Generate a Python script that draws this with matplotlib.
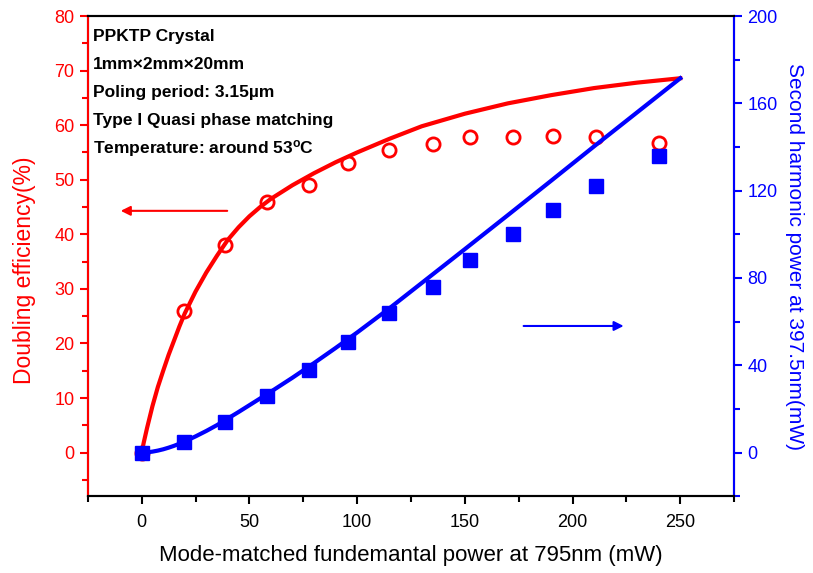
import numpy as np
import matplotlib.pyplot as plt

plt.rcParams['font.family'] = ['Liberation Sans', 'DejaVu Sans']
plt.rcParams['mathtext.default'] = 'regular'

# === Measured data ===
p_fund = [0, 19.5, 38.5, 58, 77.5, 96, 115, 135, 152.5, 172.5, 191, 211, 240]
efficiency = [0, 26, 38, 46, 49, 53, 55.4, 56.6, 57.8, 57.9, 58.1, 57.9, 56.8]
p_sh = [0, 5, 14.2, 25.7, 38, 50.5, 63.8, 76, 88, 100, 111, 122, 136]

# === Fit curves ===
fit_x = [0, 1, 2.5, 5, 7.5, 10, 12.5, 15, 17.5, 20, 25, 30, 35, 40, 45, 50, 55, 60,
         70, 80, 90, 100, 115, 130, 150, 170, 190, 210, 230, 250]
fit_eff = [0, 1.9, 4.5, 8.5, 12, 15, 17.9, 20.5, 23.1, 25.5, 29.5, 33, 36.1, 39, 41.3,
           43.3, 45, 46.5, 49, 51.2, 53.2, 55, 57.5, 59.8, 62.1, 64, 65.5, 66.8, 67.8, 68.6]
fit_sh = [0, 0.02, 0.11, 0.43, 0.9, 1.5, 2.24, 3.08, 4.04, 5.1, 7.4, 9.9, 12.6, 15.6, 18.6,
          21.7, 24.8, 27.9, 34.3, 41.0, 47.9, 55.0, 66.1, 77.7, 93.2, 108.8, 124.5, 140.3,
          155.9, 171.5]

info_lines = ["PPKTP Crystal",
              "1mm\u00d72mm\u00d720mm",
              "Poling period: 3.15\u00b5m",
              "Type I Quasi phase matching",
              r"Temperature: around 53$^{o}$C"]

red = '#ff0000'
blue = '#0000ff'

fig = plt.figure(figsize=(8.13, 5.73), dpi=100)
ax1 = fig.add_axes([0.108, 0.134, 0.795, 0.838])
ax2 = ax1.twinx()

ax1.plot(fit_x, fit_eff, color=red, lw=3, zorder=3)
ax1.plot(p_fund, efficiency, 'o', mfc='none', mec=red, mew=2, ms=9.5, zorder=4)
ax2.plot(fit_x, fit_sh, color=blue, lw=3, zorder=3)
ax2.plot(p_fund, p_sh, 's', color=blue, ms=9.5, zorder=4)

ax1.set_xlim(-25, 275)
ax1.set_ylim(-8, 80)
ax2.set_ylim(-20, 200)

ax1.set_xticks(np.arange(0, 251, 50))
ax1.set_xticks(np.arange(-25, 276, 25), minor=True)
ax1.set_yticks(np.arange(0, 81, 10))
ax1.set_yticks(np.arange(-5, 81, 5), minor=True)
ax2.set_yticks(np.arange(0, 201, 40))
ax2.set_yticks(np.arange(-20, 201, 20), minor=True)

for ax in (ax1, ax2):
    for s in ax.spines.values():
        s.set_linewidth(1.5)
    ax.tick_params(which='major', length=6, width=1.5, labelsize=13, direction='out')
    ax.tick_params(which='minor', length=4, width=1.5, direction='out')
ax1.tick_params(axis='x', pad=7)

ax2.spines['left'].set_color(red)
ax2.spines['right'].set_color(blue)
ax1.tick_params(axis='y', which='both', colors=red)
ax2.tick_params(axis='y', which='both', colors=blue)

ax1.set_xlabel("Mode-matched fundemantal power at 795nm (mW)", fontsize=16, labelpad=10)
ax1.set_ylabel("Doubling efficiency(%)", fontsize=16.5, color=red)
ax1.yaxis.set_label_coords(-0.080, 0.47)
ax2.set_ylabel("Second harmonic power at 397.5nm(mW)", fontsize=15, color=blue,
               rotation=270, labelpad=19)

# arrows pointing to the axes
ax1.annotate('', xy=(-11, 44.3), xytext=(41, 44.3),
             arrowprops=dict(arrowstyle='-|>', color=red, lw=1.5, mutation_scale=14))
ax2.annotate('', xy=(225, 58), xytext=(176, 58),
             arrowprops=dict(arrowstyle='-|>', color=blue, lw=1.5, mutation_scale=14))

for i, line in enumerate(info_lines):
    ax1.text(0.008, 0.957 - i * 0.058, line, transform=ax1.transAxes,
             fontsize=12.5, fontweight='bold', va='center', ha='left')

fig.savefig('out.png', dpi=100)
